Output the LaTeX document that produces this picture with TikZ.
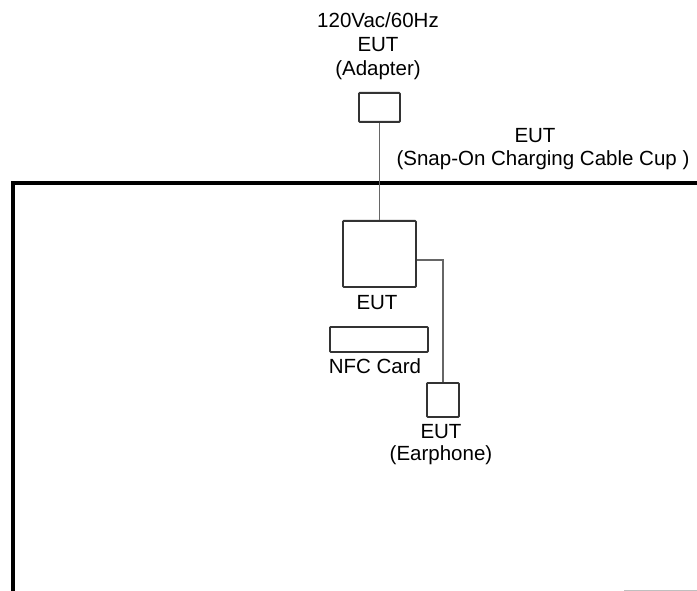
\documentclass[tikz,border=0pt]{standalone}
\usepackage{fontspec}
\setmainfont{Liberation Sans}
\begin{document}
\begin{tikzpicture}[x=1pt,y=-1pt,
  lbl/.style={anchor=base,inner sep=0pt,font=\fontsize{20.5}{24}\selectfont},
  dev/.style={draw=black!80,line width=1.8pt,rounded corners=0.8pt,inner sep=0pt,anchor=north west},
  cable/.style={draw=black!60,line width=1.8pt},
  frame/.style={draw=black,line width=3.5pt},
  stub/.style={draw=black!25,line width=1pt}]
\useasboundingbox (0,0) rectangle (697,591);
% frame of the table
\coordinate (fbl) at (13,600);
\coordinate (ftl) at (13,183);
\coordinate (ftr) at (705,183);
\draw[frame] (fbl) -- (ftl) -- (ftr);
\coordinate (sl) at (624,590);
\coordinate (sr) at (700,590);
\draw[stub] (sl) -- (sr);
% devices
\node[dev,minimum width=41pt,minimum height=29pt] (adapter) at (358,92) {};
\node[dev,minimum width=73pt,minimum height=66pt] (eut) at (342,220) {};
\node[dev,minimum width=98pt,minimum height=25pt] (nfc) at (329,326) {};
\node[dev,minimum width=32pt,minimum height=34pt] (ear) at (426,382) {};
% cables
\draw[cable] (adapter.south) -- (eut.north);
\draw[cable] ([yshift=-6pt]eut.east) -| (ear.north);
% labels
\node[lbl] (t1) at (378,28) {120Vac/60Hz};
\node[lbl] (t2) at (378,52) {EUT};
\node[lbl] (t3) at (378,76) {(Adapter)};
\node[lbl] (c1) at (535,143) {EUT};
\node[lbl] (c2) at (543,166) {(Snap-On Charging Cable Cup )};
\node[lbl] (e1) at (377,309) {EUT};
\node[lbl] (n1) at (375,373) {NFC Card};
\node[lbl] (h1) at (441,438) {EUT};
\node[lbl] (h2) at (441,460) {(Earphone)};
\end{tikzpicture}
\end{document}
